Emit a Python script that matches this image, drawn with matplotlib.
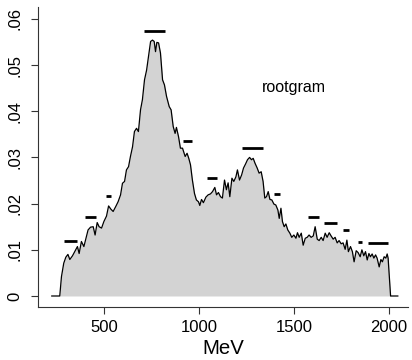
import numpy as np
import matplotlib.pyplot as plt

plt.rcParams['font.family'] = ['Liberation Sans', 'DejaVu Sans']

# Estimated density of the mass spectrum (MeV, density)
mev = [226, 268, 277, 289, 300, 311, 321, 335, 349, 361, 370, 382, 395, 405, 417,
       430, 444, 454, 465, 475, 488, 500, 514, 525, 537, 549, 563, 575, 588, 598,
       609, 619, 630, 640, 651, 661, 672, 682, 693, 703, 714, 725, 735, 746, 756,
       765, 772, 779, 788, 798, 809, 819, 830, 844, 854, 865, 875, 882, 893, 903,
       914, 928, 938, 947, 956, 966, 977, 987, 998, 1005, 1014, 1024, 1037, 1049,
       1061, 1072, 1084, 1093, 1103, 1114, 1124, 1135, 1145, 1154, 1163, 1174, 1184,
       1195, 1203, 1214, 1225, 1235, 1246, 1256, 1267, 1277, 1286, 1296, 1307, 1317,
       1328, 1338, 1347, 1356, 1365, 1374, 1384, 1395, 1405, 1416, 1423, 1432, 1440,
       1449, 1458, 1468, 1479, 1489, 1500, 1511, 1519, 1528, 1539, 1549, 1560, 1570,
       1580, 1591, 1602, 1612, 1623, 1633, 1644, 1654, 1665, 1675, 1686, 1696, 1707,
       1717, 1728, 1738, 1749, 1759, 1770, 1779, 1787, 1798, 1808, 1817, 1828, 1838,
       1849, 1858, 1868, 1877, 1886, 1895, 1903, 1912, 1921, 1930, 1938, 1949, 1958,
       1966, 1975, 1984, 1991, 1996, 2009, 2047]
dens = [0, 0, 0.0042, 0.0071, 0.0084, 0.0090, 0.0079, 0.0087, 0.0098, 0.0107, 0.0092,
        0.0118, 0.0107, 0.0123, 0.0143, 0.0149, 0.0150, 0.0132, 0.0159, 0.0150, 0.0147,
        0.0161, 0.0173, 0.0195, 0.0188, 0.0183, 0.0194, 0.0204, 0.0219, 0.0244, 0.0248,
        0.0273, 0.0280, 0.0302, 0.0323, 0.0356, 0.0363, 0.0356, 0.0403, 0.0425, 0.0468,
        0.0489, 0.0518, 0.0551, 0.0554, 0.0551, 0.0529, 0.0549, 0.0548, 0.0526, 0.0468,
        0.0457, 0.0432, 0.0410, 0.0403, 0.0367, 0.0352, 0.0365, 0.0345, 0.0320, 0.0320,
        0.0302, 0.0309, 0.0298, 0.0284, 0.0251, 0.0222, 0.0208, 0.0204, 0.0196, 0.0209,
        0.0202, 0.0214, 0.0219, 0.0221, 0.0226, 0.0235, 0.0219, 0.0224, 0.0215, 0.0212,
        0.0251, 0.0230, 0.0245, 0.0215, 0.0255, 0.0248, 0.0258, 0.0273, 0.0251, 0.0262,
        0.0277, 0.0286, 0.0295, 0.0300, 0.0295, 0.0298, 0.0287, 0.0277, 0.0266, 0.0269,
        0.0248, 0.0212, 0.0215, 0.0226, 0.0209, 0.0208, 0.0199, 0.0197, 0.0186, 0.0168,
        0.0190, 0.0161, 0.0150, 0.0156, 0.0143, 0.0136, 0.0127, 0.0132, 0.0125, 0.0137,
        0.0127, 0.0136, 0.0110, 0.0125, 0.0127, 0.0132, 0.0127, 0.0130, 0.0150, 0.0123,
        0.0120, 0.0127, 0.0120, 0.0136, 0.0127, 0.0137, 0.0130, 0.0123, 0.0127, 0.0115,
        0.0120, 0.0113, 0.0115, 0.0101, 0.0121, 0.0096, 0.0107, 0.0096, 0.0074, 0.0098,
        0.0094, 0.0085, 0.0100, 0.0087, 0.0096, 0.0078, 0.0092, 0.0085, 0.0091, 0.0082,
        0.0089, 0.0082, 0.0063, 0.0079, 0.0074, 0.0085, 0.0082, 0.0091, 0.0082, 0, 0]

# Rootgram bar tops: start, end, height
bar_lo = [291, 400, 510, 712, 914, 1044, 1225, 1395, 1575, 1660, 1759, 1838, 1891]
bar_hi = [360, 461, 540, 821, 964, 1093, 1338, 1426, 1632, 1728, 1789, 1859, 1996]
bar_y = [0.0119, 0.0172, 0.0216, 0.0574, 0.0335, 0.0255, 0.0321, 0.0220,
         0.0172, 0.0159, 0.0142, 0.0117, 0.0115]

yticks = [0, 0.01, 0.02, 0.03, 0.04, 0.05, 0.06]
ytick_labels = ['0', '.01', '.02', '.03', '.04', '.05', '.06']
xticks = [500, 1000, 1500, 2000]

fig = plt.figure(figsize=(4.12, 3.6), dpi=100)
ax = fig.add_axes([0.092, 0.147, 0.898, 0.834])

ax.fill_between(mev, dens, 0, color='#d3d3d3', linewidth=0)
ax.plot(mev, dens, color='black', linewidth=0.9)
ax.hlines(bar_y, bar_lo, bar_hi, color='black', linewidth=2)
ax.text(1500, 0.0452, 'rootgram', ha='center', va='center', fontsize=11.5)

ax.set_xlim(153, 2100)
ax.set_ylim(-0.0024, 0.0626)
ax.set_xticks(xticks)
ax.set_xticklabels([str(t) for t in xticks], fontsize=12)
ax.set_yticks(yticks)
ax.set_yticklabels(ytick_labels, fontsize=12, rotation=90, va='center')
ax.tick_params(length=5, width=0.8, color='#333333')
ax.tick_params(axis='x', pad=4)
ax.tick_params(axis='y', pad=6)
ax.set_xlabel('MeV', fontsize=14.7, labelpad=3)

for s in ['top', 'right']:
    ax.spines[s].set_visible(False)
for s in ['left', 'bottom']:
    ax.spines[s].set_linewidth(0.8)
    ax.spines[s].set_color('#333333')

fig.savefig('out.png', dpi=100)
